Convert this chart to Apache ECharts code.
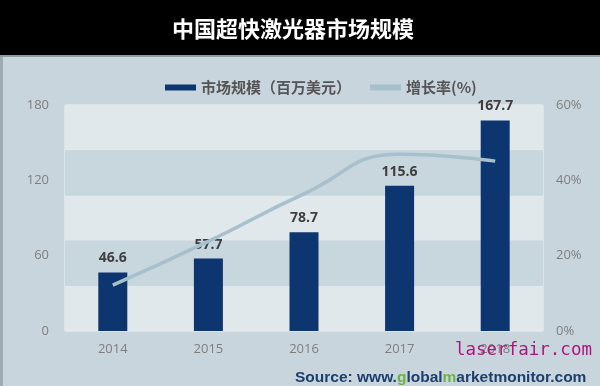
<!DOCTYPE html>
<html>
<head>
<meta charset="utf-8">
<script src="https://cdn.jsdelivr.net/npm/echarts@6/dist/echarts.min.js"></script>
<style>html,body{margin:0;padding:0;background:#c8d5dc;}#c{width:600px;height:386px;}</style>
</head>
<body>
<div id="c"></div>
<script>
const years = ['2014', '2015', '2016', '2017', '2018'];
const marketSize = [46.6, 57.7, 78.7, 115.6, 167.7];
const growthRate = [12.2, 23.8, 36.4, 46.9, 45.1];
const leftTicks = [0, 60, 120, 180];
const rightTicks = [0, 20, 40, 60];

const chart = echarts.init(document.getElementById('c'), null, {renderer: 'canvas'});
const cjk = '"Noto Sans CJK SC", sans-serif';
const num = '"Open Sans", "Liberation Sans", sans-serif';

chart.setOption({
  backgroundColor: '#c8d5dc',
  animation: false,
  graphic: [
    {type: 'rect', shape: {x: 0, y: 0, width: 600, height: 55}, style: {fill: '#000'}, z: 0},
    {type: 'rect', shape: {x: 0, y: 55, width: 600, height: 2}, style: {fill: '#8f9ba2'}, z: 0},
    {type: 'rect', shape: {x: 0, y: 57, width: 3, height: 329}, style: {fill: '#a0abb1'}, z: 0},
    {type: 'text', left: 172, top: 18, style: {text: '中国超快激光器市场规模', fill: '#fff', font: 'bold 22px ' + cjk}, z: 10},
    {type: 'text', left: 455, top: 341, style: {text: 'laserfair.com', fill: '#b0147e', font: '17.5px "DejaVu Sans Mono", monospace'}, z: 10},
    {type: 'text', left: 295, top: 370, style: {
      rich: {
        a: {fill: '#1e3f6e', font: 'bold 15.5px "Liberation Sans", Arial, sans-serif'},
        g: {fill: '#6db33f', font: 'bold 15.5px "Liberation Sans", Arial, sans-serif'}
      },
      text: '{a|Source: www.}{g|g}{a|lobal}{g|m}{a|arketmonitor.com}'
    }, z: 10}
  ],
  legend: {
    left: 160, top: 75,
    itemWidth: 31, itemHeight: 6, itemGap: 19,
    textStyle: {fontFamily: cjk, fontSize: 15, color: '#555', fontWeight: 'bold'},
    data: [
      {name: '市场规模（百万美元）', icon: 'rect'},
      {name: '增长率(%)', icon: 'rect', itemStyle: {color: '#a6c0cc'}}
    ]
  },
  grid: {left: 65, right: 57, top: 105, bottom: 55, show: true, borderColor: '#eef3f5', borderWidth: 1, backgroundColor: 'transparent'},
  xAxis: {
    type: 'category', data: years,
    axisLine: {show: false}, axisTick: {show: false},
    axisLabel: {color: '#7f7f7f', fontSize: 13, fontFamily: num, margin: 12}
  },
  yAxis: [
    {type: 'value', min: leftTicks[0], max: leftTicks[leftTicks.length - 1], interval: 60, position: 'left',
      axisLine: {show: false}, axisTick: {show: false}, splitLine: {show: false},
      axisLabel: {color: '#7f7f7f', fontSize: 13, fontFamily: num, margin: 16}},
    {type: 'value', min: rightTicks[0], max: rightTicks[rightTicks.length - 1], interval: 20, position: 'right',
      axisLine: {show: false}, axisTick: {show: false}, splitLine: {show: false},
      axisLabel: {color: '#7f7f7f', fontSize: 13, fontFamily: num, margin: 13, formatter: '{value}%'}},
    {type: 'value', min: 0, max: 5, interval: 1, position: 'left',
      axisLine: {show: false}, axisTick: {show: false}, splitLine: {show: false}, axisLabel: {show: false},
      splitArea: {show: true, areaStyle: {color: ['#e0e8ec', '#c8d6de']}}}
  ],
  series: [
    {name: '市场规模（百万美元）', type: 'bar', yAxisIndex: 0, data: marketSize, barWidth: 29,
      itemStyle: {color: '#0d3570'}, z: 3,
      label: {show: true, position: 'top', distance: 7, color: '#3f3f3f', fontSize: 14, fontWeight: 'bold', fontFamily: num}},
    {name: '增长率(%)', type: 'line', yAxisIndex: 1, data: growthRate, smooth: true, showSymbol: false, symbol: 'none',
      lineStyle: {color: '#a6c0cc', width: 3.5}, itemStyle: {color: '#a6c0cc'}, z: 4}
  ]
});
</script>
</body>
</html>
